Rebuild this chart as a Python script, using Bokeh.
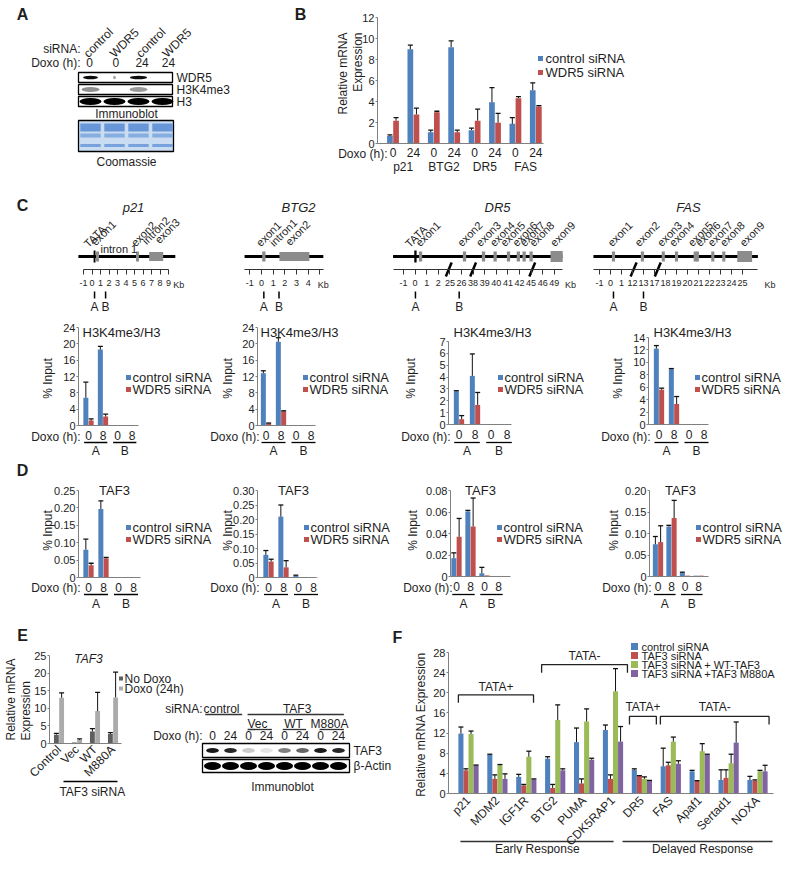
import math
from bokeh.plotting import figure
from bokeh.models import Range1d, LinearAxis, FixedTicker, NumeralTickFormatter
from bokeh.core.properties import value
from bokeh.embed import file_html
from bokeh.resources import INLINE

FONT = "Liberation Sans"
BLUE, RED, GREEN, PURPLE = "#4F81BD", "#C0504D", "#9BBB59", "#8064A2"
DARK, LIGHT = "#5f5f5f", "#ababab"
TXT = "#1e1e1e"
AXC = "#808080"

# ---------------- data ----------------
# Panel A (immunoblot)
a_sirna = ["control", "WDR5", "control", "WDR5"]
a_doxo = ["0", "0", "24", "24"]
a_wdr5_band = [0.95, 0.35, 0.95, 0.0]
a_wdr5_w = [0.62, 0.12, 0.72, 0.0]
a_h3k4_band = [0.55, 0.0, 0.5, 0.0]
a_h3_band = [1.0, 1.0, 1.0, 1.0]
a_rows = ["WDR5", "H3K4me3", "H3"]

# Panel B
b_doxo = ["0", "24", "0", "24", "0", "24", "0", "24"]
b_genes = ["p21", "BTG2", "DR5", "FAS"]
b_ctrl = [0.75, 9.0, 1.1, 9.2, 1.3, 3.95, 1.9, 5.1]
b_ctrl_err = [0.1, 0.4, 0.2, 0.6, 0.2, 1.4, 0.6, 0.7]
b_wdr5 = [2.2, 2.8, 3.0, 1.1, 2.2, 2.0, 4.35, 3.55]
b_wdr5_err = [0.3, 0.6, 0.1, 0.2, 1.1, 0.9, 0.15, 0.08]
b_series = ["control siRNA", "WDR5 siRNA"]

# Panel C (H3K4me3/H3 ChIP) categories: A 0h, A 8h, B 0h, B 8h
chip_doxo = ["0", "8", "0", "8"]
chip_sites = ["A", "B"]
c_p21_ctrl, c_p21_ctrl_err = [6.8, 18.6, 0.0, 0.0], [3.8, 0.8, 0.0, 0.0]
c_p21_wdr5, c_p21_wdr5_err = [1.2, 2.2, 0.0, 0.0], [0.4, 0.6, 0.0, 0.0]
c_btg2_ctrl, c_btg2_ctrl_err = [12.8, 20.5, 0.0, 0.0], [0.6, 1.0, 0.0, 0.0]
c_btg2_wdr5, c_btg2_wdr5_err = [0.5, 3.5, 0.0, 0.0], [0.1, 0.1, 0.0, 0.0]
c_dr5_ctrl, c_dr5_ctrl_err = [2.8, 4.1, 0.0, 0.0], [0.05, 1.85, 0.0, 0.0]
c_dr5_wdr5, c_dr5_wdr5_err = [0.45, 1.65, 0.0, 0.0], [0.3, 1.05, 0.0, 0.0]
c_fas_ctrl, c_fas_ctrl_err = [12.2, 8.9, 0.0, 0.0], [0.5, 0.1, 0.0, 0.0]
c_fas_wdr5, c_fas_wdr5_err = [5.6, 3.3, 0.0, 0.0], [0.25, 1.2, 0.0, 0.0]

# Panel D (TAF3 ChIP)
d_p21_ctrl, d_p21_ctrl_err = [0.08, 0.197, 0.0, 0.0], [0.03, 0.023, 0.0, 0.0]
d_p21_wdr5, d_p21_wdr5_err = [0.035, 0.055, 0.0, 0.0], [0.006, 0.003, 0.0, 0.0]
d_btg2_ctrl, d_btg2_ctrl_err = [0.078, 0.21, 0.005, 0.001], [0.015, 0.04, 0.003, 0.0]
d_btg2_wdr5, d_btg2_wdr5_err = [0.055, 0.035, 0.001, 0.001], [0.008, 0.023, 0.0, 0.0]
d_dr5_ctrl, d_dr5_ctrl_err = [0.017, 0.0605, 0.003, 0.0005], [0.005, 0.001, 0.0055, 0.0]
d_dr5_wdr5, d_dr5_wdr5_err = [0.037, 0.0465, 0.001, 0.0005], [0.017, 0.0265, 0.0, 0.0]
d_fas_ctrl, d_fas_ctrl_err = [0.075, 0.116, 0.008, 0.002], [0.018, 0.003, 0.002, 0.0]
d_fas_wdr5, d_fas_wdr5_err = [0.08, 0.136, 0.002, 0.002], [0.038, 0.041, 0.0, 0.0]

# Panel E
e_cats = ["Control", "Vec", "WT", "M880A"]
e_nodoxo, e_nodoxo_err = [2.5, 0.3, 3.4, 2.7], [0.35, 0.0, 0.8, 0.4]
e_doxo, e_doxo_err = [13.0, 1.0, 9.2, 13.1], [1.4, 0.3, 5.3, 7.2]
e_series = ["No Doxo", "Doxo (24h)"]
e_lanes_doxo = ["0", "24", "0", "24", "0", "24", "0", "24"]
e_taf3_band = [0.9, 0.85, 0.2, 0.1, 0.5, 0.6, 0.9, 0.85]
e_actin_band = [1.0] * 8

# Panel F
f_genes = ["p21", "MDM2", "IGF1R", "BTG2", "PUMA", "CDK5RAP1", "DR5", "FAS", "Apaf1", "Sertad1", "NOXA"]
f_ctrl = [11.9, 7.7, 3.3, 6.9, 10.2, 12.6, 4.7, 5.4, 4.4, 2.7, 2.7]
f_ctrl_err = [1.3, 0.1, 0.5, 0.4, 2.8, 1.0, 0.2, 3.6, 0.2, 2.0, 0.7]
f_taf3 = [4.6, 2.9, 1.6, 1.1, 2.0, 2.9, 3.5, 5.6, 2.5, 3.1, 2.5]
f_taf3_err = [0.3, 0.8, 0.2, 0.7, 0.9, 0.8, 0.05, 0.6, 0.05, 1.6, 0.2]
f_wt = [11.8, 5.6, 7.3, 14.6, 14.3, 20.3, 2.9, 10.3, 8.4, 6.0, 4.4]
f_wt_err = [0.6, 0.15, 1.1, 3.0, 2.5, 4.5, 0.4, 0.9, 1.5, 1.8, 0.2]
f_m880a = [5.6, 2.9, 2.8, 4.6, 6.7, 10.3, 2.5, 5.9, 7.7, 10.1, 4.4]
f_m880a_err = [0.05, 1.0, 0.1, 0.3, 0.3, 3.0, 0.1, 0.6, 0.1, 4.1, 1.2]
f_series = ["control siRNA", "TAF3 siRNA", "TAF3 siRNA + WT-TAF3", "TAF3 siRNA +TAF3 M880A"]

# Gene maps (kb or slot units)
p21_ticks = list(range(-1, 10))
btg2_ticks = list(range(-1, 5))
dr5_ticklabels = ["-1", "0", "1", "2", "25", "26", "38", "39", "40", "41", "42", "45", "46", "49"]
dr5_exons = [1.47, 5.26, 6.9, 7.9, 9.05, 9.9, 10.4, 11.0]
dr5_names = ["TATA", "exon1", "exon2", "exon3", "exon4", "exon5", "exon6", "exon7", "exon8", "exon9"]
fas_ticklabels = ["-1", "0", "1", "12", "13", "17", "18", "19", "20", "21", "22", "23", "24", "25"]
fas_exons = [1.27, 3.9, 5.8, 7.0, 8.7, 8.9, 10.3, 11.3]
fas_names = ["exon1", "exon2", "exon3", "exon4", "exon5", "exon6", "exon7", "exon8", "exon9"]

# ---------------- canvas ----------------
W, H = 784, 854
p = figure(width=W, height=H, x_range=Range1d(0, W), y_range=Range1d(H, 0),
           output_backend="svg", toolbar_location=None, min_border=0,
           x_axis_type=None, y_axis_type=None, outline_line_color=None)
p.grid.visible = False
p.background_fill_color = "white"
p.border_fill_color = "white"


def xmap(p0, k):
    s = -p0 / k
    return Range1d(start=s, end=s + W / k)


def ymap(p0, vtop, ptop):
    k = (p0 - ptop) / vtop
    s = -(H - p0) / k
    return Range1d(start=s, end=s + H / k)


charts = {
    "B": dict(c0=392.5, step=20.4, axis=377, end=543, y0=143.3, top=12, ptop=17.3),
    "Cp21": dict(c0=88, step=14.5, axis=78, end=138, y0=425, top=24, ptop=327),
    "Cbtg2": dict(c0=265.5, step=15, axis=257, end=315, y0=425, top=24, ptop=327),
    "Cdr5": dict(c0=458.5, step=16, axis=448, end=511, y0=424, top=7, ptop=341),
    "Cfas": dict(c0=658.5, step=15, axis=648, end=708, y0=424, top=14, ptop=337),
    "Dp21": dict(c0=88, step=15, axis=78, end=140, y0=577, top=0.25, ptop=490),
    "Dbtg2": dict(c0=268, step=15, axis=257, end=316, y0=577, top=0.30, ptop=490),
    "Ddr5": dict(c0=456, step=14, axis=450, end=510, y0=576, top=0.08, ptop=490),
    "Dfas": dict(c0=657.5, step=13.5, axis=649, end=708, y0=576, top=0.20, ptop=490),
    "E": dict(c0=58.5, step=18, axis=49, end=121, y0=743, top=25, ptop=655),
    "F": dict(c0=468, step=28.9, axis=448, end=773, y0=793, top=28, ptop=652),
}

XR, YR = {}, {}
for n, c in charts.items():
    XR[n] = xmap(c["c0"], c["step"])
    YR[n] = ymap(c["y0"], c["top"], c["ptop"])
XR["g_p21"] = xmap(91.5, 8.5)
XR["g_btg2"] = xmap(261, 11.67)
XR["g_dr5"] = xmap(403, 11.6)
XR["g_fas"] = xmap(599, 11.0)
XR["lA"] = xmap(90, 24)
XR["lAt"] = xmap(89, 26.3)
XR["lE"] = xmap(212, 18)
p.extra_x_ranges = XR
p.extra_y_ranges = YR


def T(xs, ys, texts, size=12, align="left", base="middle", angle=0.0, style="normal",
      xr="default", yr="default", color=TXT):
    if not isinstance(xs, (list, tuple)):
        xs = [xs]
    if not isinstance(ys, (list, tuple)):
        ys = [ys]
    if not isinstance(texts, (list, tuple)):
        texts = [texts]
    n = max(len(xs), len(ys), len(texts))
    xs = list(xs) * (n // len(xs)) if len(xs) < n else list(xs)
    ys = list(ys) * (n // len(ys)) if len(ys) < n else list(ys)
    texts = list(texts) * (n // len(texts)) if len(texts) < n else list(texts)
    p.text(x=xs, y=ys, text=texts, text_font=value(FONT), text_font_size=value(f"{size}px"),
           text_align=align, text_baseline=base, angle=angle, text_font_style=style,
           text_color=color, x_range_name=xr, y_range_name=yr)


def bars(name, series, errs, colors, width, offs):
    for vals, ers, col, off in zip(series, errs, colors, offs):
        xs = [i + off for i in range(len(vals))]
        p.vbar(x=xs, top=vals, bottom=0, width=width, fill_color=col, line_color=None,
               x_range_name=name, y_range_name=name)
        ex = [x for x, e in zip(xs, ers) if e > 0]
        e0 = [v for v, e in zip(vals, ers) if e > 0]
        e1 = [v + e for v, e in zip(vals, ers) if e > 0]
        p.segment(x0=ex, y0=e0, x1=ex, y1=e1, line_color="#111111", line_width=1,
                  x_range_name=name, y_range_name=name)
        p.scatter(x=ex, y=e1, marker="dash", size=5, line_color="#111111", line_width=1.3,
                  x_range_name=name, y_range_name=name)


def axes(name, yticks, xlabels=None, yfmt=None, xsize=12, xstand=4, xorient=None, ylabsize=11):
    c = charts[name]
    xloc = (c["axis"] - c["c0"]) / c["step"]
    xend = (c["end"] - c["c0"]) / c["step"]
    ya = LinearAxis(x_range_name=name, y_range_name=name, fixed_location=xloc,
                    bounds=(0, c["top"]), ticker=FixedTicker(ticks=yticks),
                    axis_line_color=AXC, major_tick_line_color=AXC, major_tick_out=2,
                    major_tick_in=0, minor_tick_line_color=None,
                    major_label_text_font=FONT, major_label_text_font_size=f"{ylabsize}px",
                    major_label_text_color=TXT, major_label_standoff=1)
    if yfmt:
        ya.formatter = NumeralTickFormatter(format=yfmt)
        ya.major_label_overrides = {0: "0"}
    p.add_layout(ya, "left")
    n = len(xlabels) if xlabels else 0
    xa = LinearAxis(x_range_name=name, y_range_name=name, fixed_location=0,
                    bounds=(xloc, xend), ticker=FixedTicker(ticks=list(range(n))),
                    axis_line_color=AXC, major_tick_line_color=None, major_tick_out=0,
                    major_tick_in=0, minor_tick_line_color=None,
                    major_label_text_font=FONT, major_label_text_font_size=f"{xsize}px",
                    major_label_text_color=TXT, major_label_standoff=xstand,
                    major_label_overrides={i: l for i, l in enumerate(xlabels or [])})
    if xorient is not None:
        xa.major_label_orientation = xorient
    p.add_layout(xa, "below")


def legend(xsq, xtxt, ys, labels, colors, size=5, font=13):
    p.scatter(x=[xsq] * len(ys), y=ys, marker="square", size=size, fill_color=colors,
              line_color=None)
    T([xtxt] * len(ys), ys, labels, size=font)


# ---------------- panel letters ----------------
T([22, 300, 22, 22, 22, 397], [14, 14, 205, 470, 635, 637], ["A", "B", "C", "D", "E", "F"],
  size=16, align="center", style="bold")

# ---------------- Panel A ----------------
lanes4 = list(range(4))
T(80, 48, "siRNA:", align="right")
T([l - 0.15 for l in lanes4], [55] * 4, a_sirna, angle=math.pi / 4, xr="lAt")
T(80, 62, "Doxo (h):", align="right")
T(lanes4, [62] * 4, a_doxo, align="center", xr="lAt")
row_y = [77, 89, 101]
p.quad(left=[78] * 3, right=[172] * 3, top=[y - 5 for y in row_y], bottom=[y + 5 for y in row_y],
       fill_color="white", line_color="black", line_width=1.3)
p.ellipse(x=lanes4, y=[77] * 4, width=a_wdr5_w, height=3.5, fill_color="black",
          fill_alpha=a_wdr5_band, line_color=None, x_range_name="lA")
p.ellipse(x=lanes4, y=[89] * 4, width=[0.75] * 4, height=5, fill_color="#333333",
          fill_alpha=a_h3k4_band, line_color=None, x_range_name="lA")
p.ellipse(x=lanes4, y=[101] * 4, width=[0.92] * 4, height=7, fill_color="black",
          fill_alpha=a_h3_band, line_color=None, x_range_name="lA")
T([176] * 3, row_y, a_rows)
T(126, 113, "Immunoblot", align="center")
p.quad(left=[78], right=[173], top=[120], bottom=[151], fill_color="#c9dcf1",
       line_color="black", line_width=1.3)
p.rect(x=lanes4, y=[127] * 4, width=0.85, height=8, fill_color="#4f86d2", fill_alpha=0.8,
       line_color=None, x_range_name="lA")
p.rect(x=lanes4, y=[135] * 4, width=0.85, height=4, fill_color="#6a9ad8", fill_alpha=0.7,
       line_color=None, x_range_name="lA")
p.rect(x=lanes4, y=[145] * 4, width=0.85, height=3, fill_color="#5b8fd6", fill_alpha=0.75,
       line_color=None, x_range_name="lA")
T(126, 161, "Coomassie", align="center")

# ---------------- Panel B ----------------
bars("B", [b_ctrl, b_wdr5], [b_ctrl_err, b_wdr5_err], [BLUE, RED], 0.28, [-0.15, 0.15])
axes("B", list(range(0, 13, 2)), b_doxo, xstand=4)
T(387, 153, "Doxo (h):", align="right")
T([0.5, 2.5, 4.5, 6.5], [166] * 4, b_genes, align="center", xr="B")
T([342, 357], [32, 32], ["Relative mRNA", "Expression"], align="right", angle=math.pi / 2)
legend(540, 545, [58, 72], b_series, [BLUE, RED])

# ---------------- Panel C gene maps ----------------
def gene_axis(name, ticks, labels, start, end):
    ax = LinearAxis(x_range_name=name, fixed_location=269, bounds=(start, end),
                    ticker=FixedTicker(ticks=ticks), axis_line_color="#333333",
                    major_tick_line_color="#333333", major_tick_out=5, major_tick_in=0,
                    minor_tick_line_color=None, major_label_text_font=FONT,
                    major_label_text_font_size="9px", major_label_text_color=TXT,
                    major_label_standoff=5,
                    major_label_overrides={t: l for t, l in zip(ticks, labels)})
    p.add_layout(ax, "below")


def gene_line(name, x0, x1):
    p.segment(x0=[x0], y0=[256], x1=[x1], y1=[256], line_color="black", line_width=3.2,
              x_range_name=name)


def exons(name, xs, w, color="#8c8c8c", h=10):
    p.rect(x=xs, y=[256] * len(xs), width=w, height=h, fill_color=color, line_color=None,
           x_range_name=name)


def breaks(name, xs, w):
    p.segment(x0=[x - w for x in xs], y0=[276] * len(xs), x1=[x + w for x in xs],
              y1=[262] * len(xs), line_color="black", line_width=2.5, x_range_name=name)


def sites(name, xs):
    p.segment(x0=xs, y0=[291] * len(xs), x1=xs, y1=[298] * len(xs), line_color="black",
              line_width=1.5, x_range_name=name)
    T(xs, [306] * len(xs), ["A", "B"], size=12, align="center", xr=name)


GL = 11  # gene label font size
# p21
T(133, 207, "p21", size=13, align="center", style="italic")
gene_line("g_p21", -1.6, 9.8)
exons("g_p21", [0.3], 0.22, color="black", h=12)
exons("g_p21", [0.65, 5.35], 0.35)
exons("g_p21", [7.55], 1.65, h=9)
gene_axis("g_p21", p21_ticks, [str(t) for t in p21_ticks], -1, 9)
T(10.2, 284, "Kb", size=9, align="center", xr="g_p21")
sites("g_p21", [0.3, 1.6])
T([-0.75, 0.1, 4.8, 6.1, 7.6], [245, 243, 244, 242, 241],
  ["TATA", "exon1", "exon2", "intron2", "exon3"], size=GL, angle=math.pi / 4, xr="g_p21")
T(1.0, 248, "intron 1", size=GL, xr="g_p21")

# BTG2
T(298, 207, "BTG2", size=13, align="center", style="italic")
gene_line("g_btg2", -1.45, 5.3)
exons("g_btg2", [0.2], 0.28)
exons("g_btg2", [2.82], 2.57, h=9)
gene_axis("g_btg2", list(range(-1, 6)), [str(t) for t in btg2_ticks] + [""], -1.45, 5.3)
T(5.3, 284, "Kb", size=9, align="center", xr="g_btg2")
sites("g_btg2", [0.2, 1.5])
T([-0.3, 0.85, 2.2], [244, 244, 243], ["exon1", "intron1", "exon2"], size=GL,
  angle=math.pi / 4, xr="g_btg2")

# DR5
T(497, 207, "DR5", size=13, align="center", style="italic")
gene_line("g_dr5", -0.9, 13.7)
exons("g_dr5", [1.03], 0.2, color="black", h=12)
exons("g_dr5", dr5_exons, 0.28)
exons("g_dr5", [13.2], 1.05, h=11)
gene_axis("g_dr5", list(range(len(dr5_ticklabels))), dr5_ticklabels, -0.9, 13.7)
T(14.4, 284, "Kb", size=9, align="center", xr="g_dr5")
breaks("g_dr5", [3.9, 6.0, 11.1], 0.25)
sites("g_dr5", [1.03, 4.8])
T([0.3, 1.2, 4.8, 6.4, 7.6, 8.5, 9.55, 10.2, 11.0, 12.8], [245, 244] + [244] * 8,
  dr5_names, size=GL, angle=math.pi / 4, xr="g_dr5")

# FAS
T(688, 207, "FAS", size=13, align="center", style="italic")
gene_line("g_fas", -0.55, 14.4)
exons("g_fas", fas_exons, 0.28)
exons("g_fas", [13.2], 1.35, h=11)
gene_axis("g_fas", list(range(len(fas_ticklabels))), fas_ticklabels, -0.55, 14.4)
T(15.5, 284, "Kb", size=9, align="center", xr="g_fas")
breaks("g_fas", [3.1, 5.3], 0.27)
sites("g_fas", [1.27, 4.0])
T([0.9, 3.35, 5.4, 6.5, 8.2, 8.9, 10.0, 11.1, 12.9], [244] * 9, fas_names, size=GL,
  angle=math.pi / 4, xr="g_fas")

# ---------------- Panel C / D charts ----------------
def chip(name, ctrl, ctrl_e, wdr, wdr_e, yticks, yfmt, title, tx, ty, ylab_x, ylab_y,
         lx, ly, doxo_y, uy, sy, talign="left"):
    c = charts[name]
    step = c["step"]
    w = 5.0 / step
    bars(name, [ctrl, wdr], [ctrl_e, wdr_e], [BLUE, RED], w, [-w / 2 - 0.01, w / 2 + 0.01])
    axes(name, yticks, chip_doxo, yfmt=yfmt, xstand=5)
    T(c["axis"] + 2, doxo_y, "Doxo (h):", align="right")
    p.segment(x0=[-0.3, 1.7], y0=[uy, uy], x1=[1.3, 3.3], y1=[uy, uy], line_color="black",
              line_width=1.3, x_range_name=name)
    T([0.5, 2.5], [sy, sy], chip_sites, align="center", xr=name)
    T(tx, ty, title, size=13, align=talign)
    T(ylab_x, ylab_y, "% Input", size=12, align="center", angle=math.pi / 2)
    legend(lx, lx + 4, [ly, ly + 12], b_series, [BLUE, RED])


chip("Cp21", c_p21_ctrl, c_p21_ctrl_err, c_p21_wdr5, c_p21_wdr5_err, list(range(0, 25, 4)), None,
     "H3K4me3/H3", 82, 332, 47, 378, 128, 377, 436, 442, 450)
chip("Cbtg2", c_btg2_ctrl, c_btg2_ctrl_err, c_btg2_wdr5, c_btg2_wdr5_err, list(range(0, 25, 4)),
     None, "H3K4me3/H3", 260, 332, 227, 378, 305, 377, 436, 442, 450)
chip("Cdr5", c_dr5_ctrl, c_dr5_ctrl_err, c_dr5_wdr5, c_dr5_wdr5_err, list(range(0, 8)), None,
     "H3K4me3/H3", 453, 332, 410, 378, 500, 377, 436, 442, 450)
chip("Cfas", c_fas_ctrl, c_fas_ctrl_err, c_fas_wdr5, c_fas_wdr5_err, list(range(0, 15, 2)), None,
     "H3K4me3/H3", 653, 332, 617, 378, 697, 377, 436, 442, 450)

chip("Dp21", d_p21_ctrl, d_p21_ctrl_err, d_p21_wdr5, d_p21_wdr5_err,
     [0, 0.05, 0.10, 0.15, 0.20, 0.25], "0.00", "TAF3", 114, 490, 47, 530, 128, 527, 587, 594,
     603, talign="center")
chip("Dbtg2", d_btg2_ctrl, d_btg2_ctrl_err, d_btg2_wdr5, d_btg2_wdr5_err,
     [0, 0.05, 0.10, 0.15, 0.20, 0.25, 0.30], "0.00", "TAF3", 293, 490, 227, 530, 306, 527, 587,
     594, 603, talign="center")
chip("Ddr5", d_dr5_ctrl, d_dr5_ctrl_err, d_dr5_wdr5, d_dr5_wdr5_err,
     [0, 0.02, 0.04, 0.06, 0.08], "0.00", "TAF3", 480, 490, 412, 530, 499, 527, 587, 594, 603,
     talign="center")
chip("Dfas", d_fas_ctrl, d_fas_ctrl_err, d_fas_wdr5, d_fas_wdr5_err,
     [0, 0.05, 0.10, 0.15, 0.20], "0.00", "TAF3", 680, 490, 613, 530, 698, 527, 587, 594, 603,
     talign="center")

# ---------------- Panel E chart ----------------
bars("E", [e_nodoxo, e_doxo], [e_nodoxo_err, e_doxo_err], [DARK, LIGHT], 0.27, [-0.145, 0.145])
axes("E", list(range(0, 26, 5)), e_cats, xstand=4, xorient=math.pi / 4)
T(88, 658, "TAF3", size=12, align="center", style="italic")
T([10, 25], [740, 740], ["Relative mRNA", "Expression"], align="left", angle=math.pi / 2)
legend(120.5, 124, [678, 688], e_series, [DARK, LIGHT], size=4, font=12)
p.segment(x0=[0.25], y0=[781], x1=[3.25], y1=[781], line_color="black", line_width=1.3,
          x_range_name="E")
T(1.85, 791, "TAF3 siRNA", align="center", xr="E")

# ---------------- Panel E blot ----------------
lanes8 = list(range(8))
T(202, 708, "siRNA:", align="right")
T([0.5, 4.7], [708, 708], ["control", "TAF3"], align="center", xr="lE")
p.segment(x0=[-0.4, 1.95], y0=[714, 714], x1=[1.65, 7.3], y1=[714, 714], line_color="#333333",
          line_width=1.3, x_range_name="lE")
T([2.5, 4.5, 6.5], [723] * 3, ["Vec", "WT", "M880A"], align="center", xr="lE")
p.segment(x0=[1.95, 3.9, 5.95], y0=[729] * 3, x1=[3.3, 5.2, 7.3], y1=[729] * 3,
          line_color="#333333", line_width=1.3, x_range_name="lE")
T(202, 735, "Doxo (h):", align="right")
T(lanes8, [735] * 8, e_lanes_doxo, align="center", xr="lE")
p.quad(left=[202, 202], right=[349, 349], top=[743, 759], bottom=[757, 772], fill_color="white",
       line_color="black", line_width=1.3)
p.ellipse(x=lanes8, y=[750] * 8, width=[0.7] * 8, height=5, fill_color="black",
          fill_alpha=e_taf3_band, line_color=None, x_range_name="lE")
p.ellipse(x=lanes8, y=[765.5] * 8, width=[0.95] * 8, height=8, fill_color="black",
          fill_alpha=e_actin_band, line_color=None, x_range_name="lE")
T([353, 353], [750, 765.5], ["TAF3", "\u03b2-Actin"])
T(282, 786, "Immunoblot", align="center")

# ---------------- Panel F ----------------
fw = 0.175
bars("F", [f_ctrl, f_taf3, f_wt, f_m880a], [f_ctrl_err, f_taf3_err, f_wt_err, f_m880a_err],
     [BLUE, RED, GREEN, PURPLE], fw, [-1.5 * fw, -0.5 * fw, 0.5 * fw, 1.5 * fw])
axes("F", list(range(0, 29, 4)), f_genes, xstand=5, xorient=math.pi / 4)
T(420, 724, "Relative mRNA Expression", align="center", angle=math.pi / 2)
legend(634, 641, [646, 655, 664, 673], f_series, [BLUE, RED, GREEN, PURPLE], size=7, font=11)


def bracket(x0, x1, ytop, leg, label, ylab):
    p.line(x=[x0, x0, x1, x1], y=[ytop - leg, ytop, ytop, ytop - leg], line_color="#222222",
           line_width=1.3, x_range_name="F", y_range_name="F")
    T((x0 + x1) / 2, ylab, label, align="center", xr="F", yr="F")


bracket(-0.35, 2.25, 19.6, 1.6, "TATA+", 21.1)
bracket(2.53, 5.5, 25.6, 1.6, "TATA-", 27.3)
bracket(5.57, 6.5, 15.3, 1.6, "TATA+", 17.1)
bracket(6.64, 10.4, 15.3, 1.6, "TATA-", 17.1)
p.segment(x0=[-0.28, 5.33], y0=[841, 841], x1=[5.02, 10.52], y1=[841, 841], line_color="#333333",
          line_width=1.5, x_range_name="F")
T([2.38, 8.1], [848, 848], ["Early Response", "Delayed Response"], align="center", xr="F")

open("out.html", "w").write(file_html(p, INLINE))
